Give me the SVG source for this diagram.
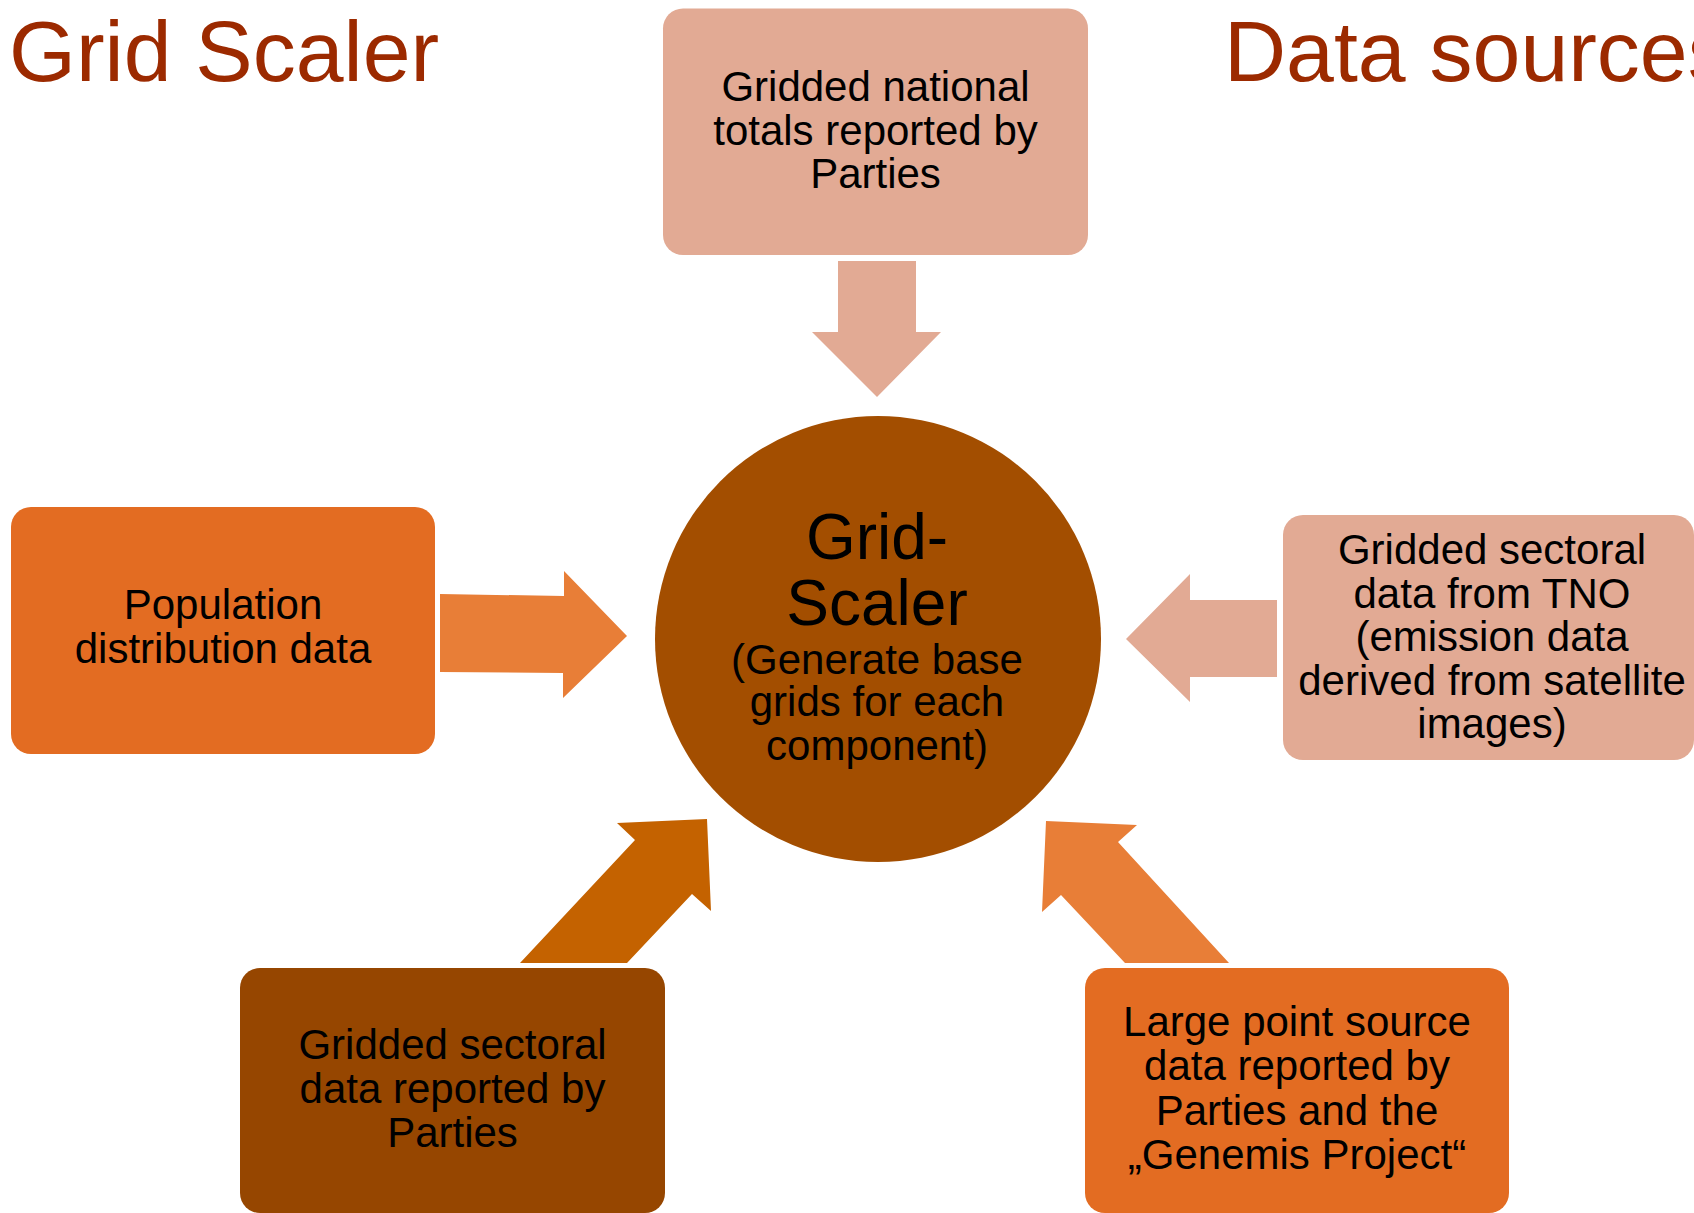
<svg xmlns="http://www.w3.org/2000/svg" width="1694" height="1213" viewBox="0 0 1694 1213">
<style>
text{font-family:"Liberation Sans",Arial,sans-serif;fill:#000;text-anchor:middle}
.t{font-size:42px}
.title{font-size:86px;fill:#9C2A00;text-anchor:start}
.big{font-size:64px}
.pink{fill:#E2AA94}
.orange{fill:#E36C22}
.light{fill:#E87E37}
</style>
<rect width="1694" height="1213" fill="#fff"/>
<text class="title" x="9" y="81">Grid Scaler</text>
<text class="title" x="1224" y="81">Data sources</text>
<g id="connectors">
<polygon class="pink" points="838,261 916,261 916,332 941,332 877,397 812,332 838,332"/>
<polygon class="light" points="440,594 564,596 564,571 627,636 563,698 563,673 440,672"/>
<polygon class="pink" points="1277,600 1190,600 1190,574 1126,639 1190,702 1190,677 1277,677"/>
<polygon fill="#C46200" points="520,963 635,840 617,823 707,819 711,911 692,894 627,963"/>
<polygon class="light" points="1229,963 1118,842 1137,825 1046,821 1042,912 1061,895 1125,963"/>
</g>
<g id="node-top">
<rect class="pink" x="663" y="8.5" width="425" height="246.5" rx="20"/>
<text class="t" x="875.5" y="101">Gridded national</text>
<text class="t" x="875.5" y="144.5">totals reported by</text>
<text class="t" x="875.5" y="188">Parties</text>
</g>
<g id="node-center">
<circle cx="878" cy="639" r="223" fill="#A34E00"/>
<text class="big" x="877" y="559">Grid-</text>
<text class="big" x="877" y="625">Scaler</text>
<text class="t" x="877" y="673.5">(Generate base</text>
<text class="t" x="877" y="716">grids for each</text>
<text class="t" x="877" y="759.5">component)</text>
</g>
<g id="node-population">
<rect class="orange" x="11" y="507" width="424" height="247" rx="20"/>
<text class="t" x="223" y="619">Population</text>
<text class="t" x="223" y="663">distribution data</text>
</g>
<g id="node-tno">
<rect class="pink" x="1283" y="515" width="411" height="245" rx="20"/>
<text class="t" x="1492" y="564">Gridded sectoral</text>
<text class="t" x="1492" y="607.5">data from TNO</text>
<text class="t" x="1492" y="651">(emission data</text>
<text class="t" x="1492" y="694.5">derived from satellite</text>
<text class="t" x="1492" y="738">images)</text>
</g>
<g id="node-sectoral">
<rect fill="#964600" x="240" y="968" width="425" height="245" rx="20"/>
<text class="t" x="452.5" y="1059">Gridded sectoral</text>
<text class="t" x="452.5" y="1103">data reported by</text>
<text class="t" x="452.5" y="1147">Parties</text>
</g>
<g id="node-point">
<rect class="orange" x="1085" y="968" width="424" height="245" rx="20"/>
<text class="t" x="1297" y="1036">Large point source</text>
<text class="t" x="1297" y="1080">data reported by</text>
<text class="t" x="1297" y="1124.5">Parties and the</text>
<text class="t" x="1297" y="1168.5">„Genemis Project“</text>
</g>
</svg>
